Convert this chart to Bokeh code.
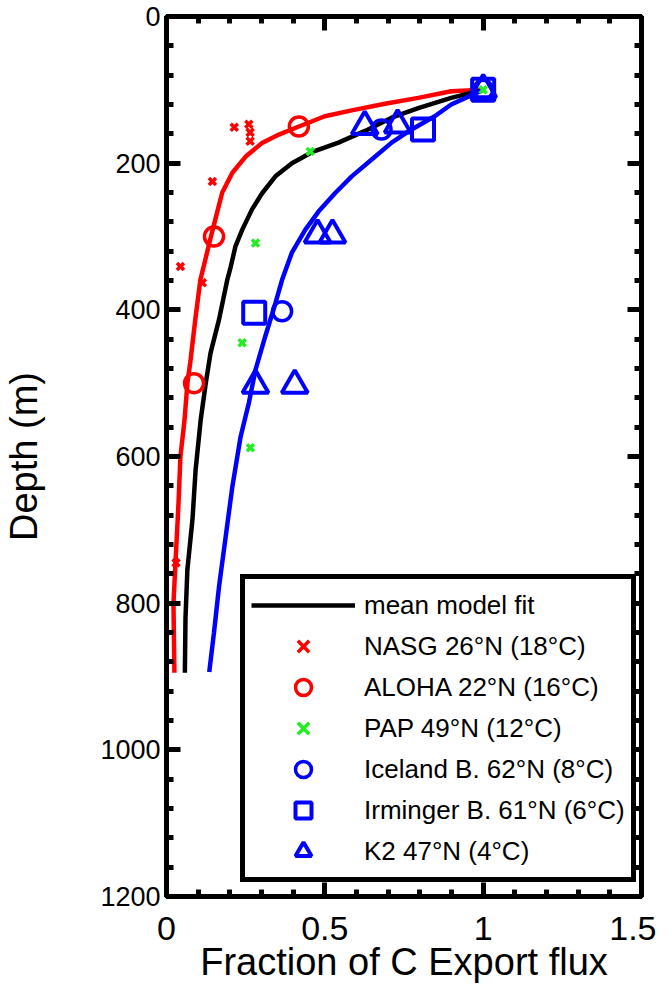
from bokeh.plotting import figure
from bokeh.models import Range1d, LinearAxis, FixedTicker, Legend, LegendItem
from bokeh.embed import file_html
from bokeh.resources import INLINE

FONT = "Liberation Sans"

# ---- model fit curves ----
red_fit_x = [1.0, 0.899, 0.795, 0.69, 0.585, 0.50, 0.418, 0.355, 0.30, 0.25, 0.208, 0.176,
             0.154, 0.138, 0.123, 0.107, 0.091, 0.075, 0.066, 0.057, 0.044, 0.038, 0.030,
             0.022, 0.025]
red_fit_d = [100, 102, 111, 119, 128, 136, 150, 161, 173, 191, 213, 240,
             277, 304, 331, 359, 413, 472, 500, 550, 600, 663, 731,
             800, 895]

mean_fit_x = [1.0, 0.899, 0.795, 0.711, 0.627, 0.543, 0.459, 0.396, 0.344, 0.302, 0.270,
              0.239, 0.218, 0.203, 0.192, 0.166, 0.139, 0.124, 0.108, 0.092, 0.082,
              0.066, 0.060, 0.058]
mean_fit_d = [100, 111, 125, 138, 156, 172, 185, 200, 218, 241, 263,
              291, 313, 341, 359, 413, 459, 500, 550, 618, 686,
              754, 820, 895]

blue_fit_x = [1.0, 0.899, 0.847, 0.774, 0.711, 0.648, 0.585, 0.532, 0.480, 0.438, 0.396,
              0.365, 0.344, 0.312, 0.281, 0.260, 0.234, 0.208, 0.187, 0.166, 0.150, 0.135]
blue_fit_d = [100, 120, 136, 154, 172, 195, 218, 241, 266, 291, 322,
              359, 391, 436, 482, 527, 573, 641, 709, 777, 840, 894]

# ---- observations ----
nasg_x = [0.214, 0.26, 0.264, 0.264, 0.145, 0.044, 0.113, 0.03]
nasg_d = [151, 147, 158, 170, 225, 341, 363, 745]

aloha_x = [0.418, 0.15, 0.087]
aloha_d = [150, 300, 500]

pap_x = [1.0, 0.454, 0.281, 0.239, 0.265]
pap_d = [100, 184, 309, 445, 588]

iceland_x = [1.0, 0.679, 0.365]
iceland_d = [100, 154, 402]

irminger_x = [1.0, 0.81, 0.277]
irminger_d = [100, 154, 404]

k2_x = [1.0, 0.626, 0.73, 0.477, 0.524, 0.281, 0.405]
k2_d = [100, 150, 148, 298, 298, 503, 503]

x_major = [0, 0.5, 1, 1.5]
x_minor = [0.1, 0.2, 0.3, 0.4, 0.6, 0.7, 0.8, 0.9, 1.1, 1.2, 1.3, 1.4]
y_major = [0, 200, 400, 600, 800, 1000, 1200]
y_minor = [d for d in range(0, 1201, 40) if d % 200 != 0]

labels = ["mean model fit", "NASG 26°N (18°C)", "ALOHA 22°N (16°C)", "PAP 49°N (12°C)",
          "Iceland B. 62°N (8°C)", "Irminger B. 61°N (6°C)", "K2 47°N (4°C)"]

RED = "#ff0000"
GREEN = "#22ee22"
BLUE = "#0000ff"

p = figure(width=656, height=985, x_range=Range1d(0, 1.5), y_range=Range1d(1200, 0),
           output_backend="svg", toolbar_location=None,
           min_border_left=155, min_border_right=15, min_border_top=16, min_border_bottom=88)
p.grid.visible = False
p.outline_line_color = "black"
p.outline_line_width = 5
p.outline_line_alpha = 1.0
p.background_fill_color = "white"
p.border_fill_color = "white"

xt = FixedTicker(ticks=x_major, minor_ticks=x_minor)
yt = FixedTicker(ticks=y_major, minor_ticks=y_minor)


def style_axis(ax, labels_on, ticks):
    ax.axis_line_width = 5
    ax.axis_line_color = "black"
    ax.major_tick_in = 14
    ax.major_tick_out = 0
    ax.minor_tick_in = 7
    ax.minor_tick_out = 0
    ax.major_tick_line_width = 5
    ax.minor_tick_line_width = 5
    ax.major_tick_line_color = "black"
    ax.minor_tick_line_color = "black"
    if not labels_on:
        ax.major_label_overrides = {t: "" for t in ticks}
        ax.major_label_standoff = 0
        ax.major_label_text_font_size = "1px"


xa = p.xaxis[0]
xa.ticker = xt
style_axis(xa, True, x_major)
xa.major_label_text_font = FONT
xa.major_label_text_font_size = "34px"
xa.major_label_text_color = "black"
xa.major_label_standoff = 20
xa.axis_label = "Fraction of C Export flux"
xa.axis_label_text_font = FONT
xa.axis_label_text_font_size = "38px"
xa.axis_label_text_font_style = "normal"
xa.axis_label_text_color = "black"
xa.axis_label_standoff = -2
xa.major_label_overrides = {0: "0", 0.5: "0.5", 1: "1", 1.5: "1.5"}

ya = p.yaxis[0]
ya.ticker = yt
style_axis(ya, True, y_major)
ya.major_label_text_font = FONT
ya.major_label_text_font_size = "27px"
ya.major_label_text_color = "black"
ya.major_label_standoff = 6
ya.axis_label = "Depth (m)"
ya.axis_label_text_font = FONT
ya.axis_label_text_font_size = "38px"
ya.axis_label_text_font_style = "normal"
ya.axis_label_text_color = "black"
ya.axis_label_standoff = 52

top = LinearAxis(ticker=xt)
style_axis(top, False, x_major)
p.add_layout(top, "above")
right = LinearAxis(ticker=yt)
style_axis(right, False, y_major)
p.add_layout(right, "right")

# curves
p.line(red_fit_x, red_fit_d, line_color=RED, line_width=4.5)
mean_r = p.line(mean_fit_x, mean_fit_d, line_color="black", line_width=4.5)
p.line(blue_fit_x, blue_fit_d, line_color=BLUE, line_width=4.5)

# markers
nasg_r = p.scatter(nasg_x, nasg_d, marker="x", size=10, line_color=RED, line_width=3.5)
aloha_r = p.scatter(aloha_x, aloha_d, marker="circle", size=19, line_color=RED,
                    fill_color=None, line_width=3.5)
pap_r = p.scatter(pap_x, pap_d, marker="x", size=10, line_color=GREEN, line_width=3.5)
ice_r = p.scatter(iceland_x, iceland_d, marker="circle", size=19, line_color=BLUE,
                  fill_color=None, line_width=3.5)
irm_r = p.scatter(irminger_x, irminger_d, marker="square", size=22, line_color=BLUE,
                  fill_color=None, line_width=4)
k2_r = p.scatter(k2_x, k2_d, marker="triangle", size=26, line_color=BLUE,
                 fill_color=None, line_width=4)

items = [LegendItem(label=lab, renderers=[r]) for lab, r in
         zip(labels, [mean_r, nasg_r, aloha_r, pap_r, ice_r, irm_r, k2_r])]
legend = Legend(items=items, location=(74, 14), margin=0, padding=6,
                spacing=1, glyph_width=104, glyph_height=40, label_height=40,
                label_standoff=9, label_text_font=FONT, label_text_font_size="26px",
                label_text_color="black", border_line_color="black", border_line_width=5,
                border_line_alpha=1.0,
                background_fill_color="white", background_fill_alpha=1.0)
p.add_layout(legend)

open("out.html", "w").write(file_html(p, INLINE))
